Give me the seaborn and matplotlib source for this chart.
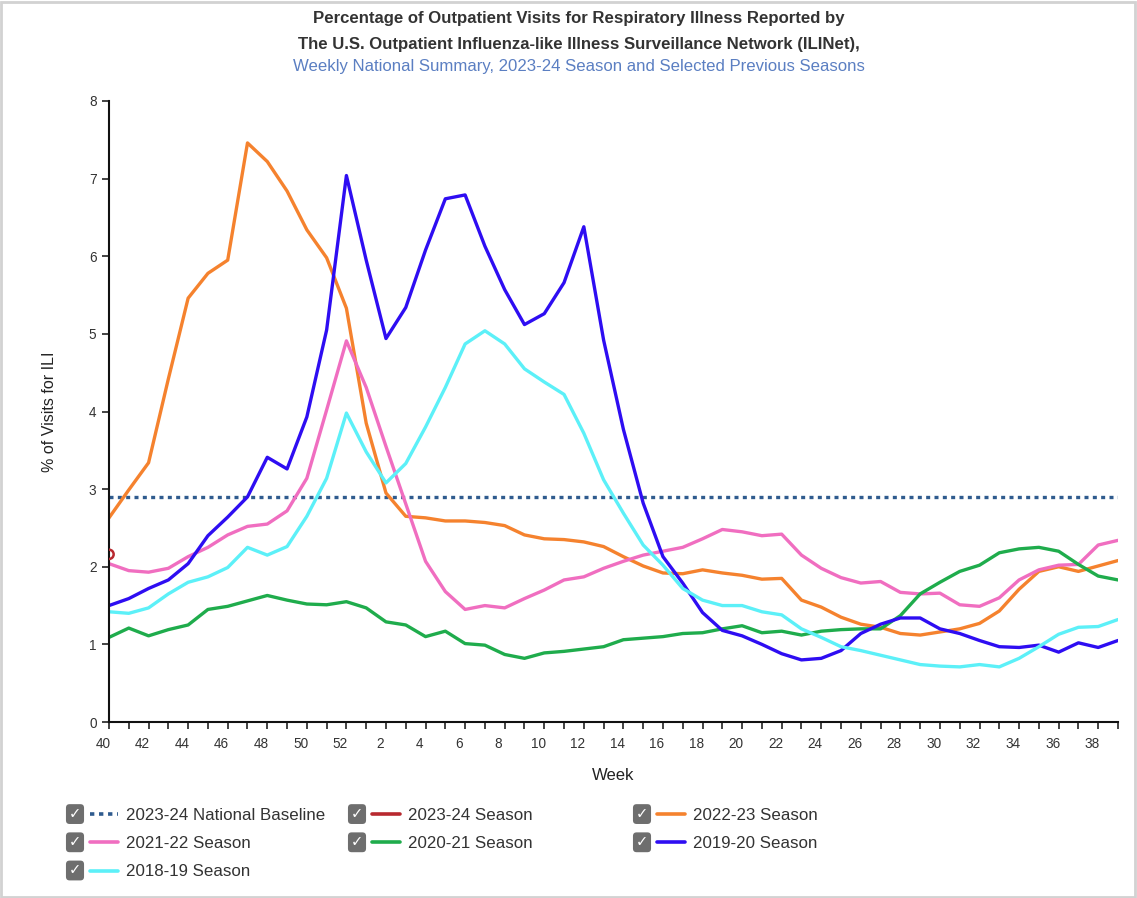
import numpy as np
import pandas as pd
import matplotlib
matplotlib.use('Agg')
import matplotlib.pyplot as plt
import matplotlib.transforms as mtransforms
from matplotlib.lines import Line2D
from matplotlib.patches import Rectangle
import seaborn as sns

# weeks of the flu season, week 40 through week 39 of the next year
weeks = [40, 41, 42, 43, 44, 45, 46, 47, 48, 49, 50, 51, 52] + list(range(1, 40))

baseline = 2.9

s2023_24 = [2.16]

s2022_23 = [2.63, 2.99, 3.34, 4.42, 5.46, 5.78, 5.95, 7.46, 7.22, 6.84, 6.34, 5.98, 5.33,
            3.85, 2.95, 2.65, 2.63, 2.59, 2.59, 2.57, 2.53, 2.41, 2.36, 2.35, 2.32, 2.26, 2.13,
            2.01, 1.92, 1.91, 1.96, 1.92, 1.89, 1.84, 1.85, 1.57, 1.48, 1.35, 1.26, 1.22, 1.14,
            1.12, 1.16, 1.20, 1.27, 1.43, 1.71, 1.94, 2.00, 1.94, 2.01, 2.08]

s2021_22 = [2.04, 1.95, 1.93, 1.98, 2.13, 2.25, 2.41, 2.52, 2.55, 2.72, 3.14, 4.02, 4.91,
            4.31, 3.55, 2.81, 2.07, 1.68, 1.45, 1.50, 1.47, 1.59, 1.70, 1.83, 1.87, 1.98, 2.07,
            2.15, 2.20, 2.25, 2.36, 2.48, 2.45, 2.40, 2.42, 2.15, 1.98, 1.86, 1.79, 1.81, 1.67,
            1.65, 1.66, 1.51, 1.49, 1.60, 1.83, 1.96, 2.02, 2.03, 2.28, 2.34]

s2020_21 = [1.09, 1.21, 1.11, 1.19, 1.25, 1.45, 1.49, 1.56, 1.63, 1.57, 1.52, 1.51, 1.55,
            1.47, 1.29, 1.25, 1.10, 1.17, 1.01, 0.99, 0.87, 0.82, 0.89, 0.91, 0.94, 0.97, 1.06,
            1.08, 1.10, 1.14, 1.15, 1.20, 1.24, 1.15, 1.17, 1.12, 1.17, 1.19, 1.20, 1.20, 1.37,
            1.65, 1.80, 1.94, 2.02, 2.18, 2.23, 2.25, 2.20, 2.03, 1.88, 1.83]

s2019_20 = [1.50, 1.59, 1.72, 1.83, 2.04, 2.40, 2.64, 2.90, 3.41, 3.26, 3.93, 5.05, 7.04,
            5.95, 4.94, 5.34, 6.08, 6.74, 6.79, 6.13, 5.57, 5.12, 5.26, 5.66, 6.38, 4.92, 3.77,
            2.82, 2.13, 1.79, 1.41, 1.18, 1.11, 1.00, 0.88, 0.80, 0.82, 0.92, 1.14, 1.26, 1.34,
            1.34, 1.20, 1.14, 1.05, 0.97, 0.96, 0.99, 0.90, 1.02, 0.96, 1.05]

s2018_19 = [1.42, 1.40, 1.47, 1.65, 1.80, 1.87, 1.99, 2.25, 2.15, 2.26, 2.65, 3.14, 3.98,
            3.48, 3.08, 3.33, 3.80, 4.31, 4.87, 5.04, 4.87, 4.55, 4.38, 4.22, 3.72, 3.12, 2.69,
            2.28, 2.02, 1.72, 1.57, 1.50, 1.50, 1.42, 1.38, 1.20, 1.09, 0.97, 0.92, 0.86, 0.80,
            0.74, 0.72, 0.71, 0.74, 0.71, 0.82, 0.97, 1.13, 1.22, 1.23, 1.32]

seasons = ['2022-23 Season', '2021-22 Season', '2020-21 Season', '2019-20 Season', '2018-19 Season']
season_values = [s2022_23, s2021_22, s2020_21, s2019_20, s2018_19]

colors = {
    '2023-24 National Baseline': '#2f5b8e',
    '2023-24 Season': '#b8292f',
    '2022-23 Season': '#f5822e',
    '2021-22 Season': '#f06ec0',
    '2020-21 Season': '#1fac4c',
    '2019-20 Season': '#2e0df2',
    '2018-19 Season': '#5cf0f8',
}

# long form table for seaborn
pos = np.arange(len(weeks))
frames = []
for name, vals in zip(seasons, season_values):
    frames.append(pd.DataFrame({'pos': pos, 'pct': vals, 'season': name}))
df = pd.concat(frames, ignore_index=True)
cur = pd.DataFrame({'pos': pos[:len(s2023_24)], 'pct': s2023_24})

sns.set_style('white')
plt.rcParams['font.family'] = ['Liberation Sans', 'DejaVu Sans']

fig = plt.figure(figsize=(11.37, 8.98), dpi=100)
ax = fig.add_axes([109 / 1137, 1 - 722 / 898, (1118 - 109) / 1137, (722 - 101) / 898])

ax.axhline(baseline, color=colors['2023-24 National Baseline'], lw=2.4,
           linestyle=(0, (1.2, 1.3)), zorder=1)
sns.lineplot(data=df, x='pos', y='pct', hue='season', hue_order=seasons,
             palette=colors, linewidth=2.4, legend=False, ax=ax, zorder=2)
sns.scatterplot(data=cur, x='pos', y='pct', marker='o', s=45, facecolor='none',
                edgecolor=colors['2023-24 Season'], linewidth=1.8, ax=ax, zorder=3)

ax.set_xlim(0, len(weeks) - 1)
ax.set_ylim(0, 8)
ax.set_xticks(pos)
ax.set_xticklabels([str(w) if i % 2 == 0 else '' for i, w in enumerate(weeks)])
ax.set_yticks(range(0, 9))
ax.tick_params(axis='both', direction='out', length=5, width=1.2, color='#222222',
               labelsize=9.8, labelcolor='#333333', pad=4, bottom=True, left=True)
ax.tick_params(axis='x', pad=6)
# labels sit a little left of their ticks
shift = mtransforms.ScaledTranslation(-0.06, 0, fig.dpi_scale_trans)
for lab in ax.get_xticklabels():
    lab.set_transform(lab.get_transform() + shift)

for sp in ['top', 'right']:
    ax.spines[sp].set_visible(False)
for sp in ['left', 'bottom']:
    ax.spines[sp].set_color('#111111')
    ax.spines[sp].set_linewidth(1.5)

ax.set_xlabel('Week', fontsize=12, color='#222222', labelpad=12)
ax.set_ylabel('% of Visits for ILI', fontsize=11.5, color='#222222', labelpad=23)

# title block
title_x = 579 / 1137
fig.text(title_x, 1 - 19 / 898,
         'Percentage of Outpatient Visits for Respiratory Illness Reported by',
         ha='center', va='center', fontsize=12.1, fontweight='bold', color='#333333')
fig.text(title_x, 1 - 44 / 898,
         'The U.S. Outpatient Influenza-like Illness Surveillance Network (ILINet),',
         ha='center', va='center', fontsize=12.1, fontweight='bold', color='#333333')
fig.text(title_x, 1 - 67 / 898,
         'Weekly National Summary, 2023-24 Season and Selected Previous Seasons',
         ha='center', va='center', fontsize=12.1, color='#5b7fc2')


def handle(name):
    if name == '2023-24 National Baseline':
        return Line2D([], [], color=colors[name], lw=2.6, linestyle=(0, (1.2, 1.3)))
    return Line2D([], [], color=colors[name], lw=2.6)


columns = [
    (['2023-24 National Baseline', '2021-22 Season', '2018-19 Season'], 90),
    (['2023-24 Season', '2020-21 Season'], 372),
    (['2022-23 Season', '2019-20 Season'], 657),
]
legends = []
for names, x0 in columns:
    leg = fig.legend([handle(n) for n in names], names, loc='upper left',
                     bbox_to_anchor=(x0 / 1137, 1 - 808 / 898), frameon=False,
                     borderpad=0, borderaxespad=0, handlelength=1.65, handletextpad=0.5,
                     labelspacing=0.78, fontsize=12.2)
    for t in leg.get_texts():
        t.set_color('#333333')
    legends.append(leg)

# checkbox next to every legend entry
fig.canvas.draw()
inv = fig.transFigure.inverted()
for leg in legends:
    for h in leg.legend_handles:
        bb = h.get_window_extent(fig.canvas.get_renderer())
        cx, cy = inv.transform((bb.x0 - 15, (bb.y0 + bb.y1) / 2))
        fig.text(cx, cy, '\u2713', ha='center', va='center', fontsize=10.5, color='white',
                 fontweight='bold',
                 bbox=dict(boxstyle='round,pad=0.2,rounding_size=0.25', fc='#6e6e6e', ec='none'))

fig.patches.append(Rectangle((0.001, 0.001), 0.997, 0.997, transform=fig.transFigure,
                             fill=False, ec='#d2d2d2', lw=2))

fig.savefig('out.png', dpi=100)
